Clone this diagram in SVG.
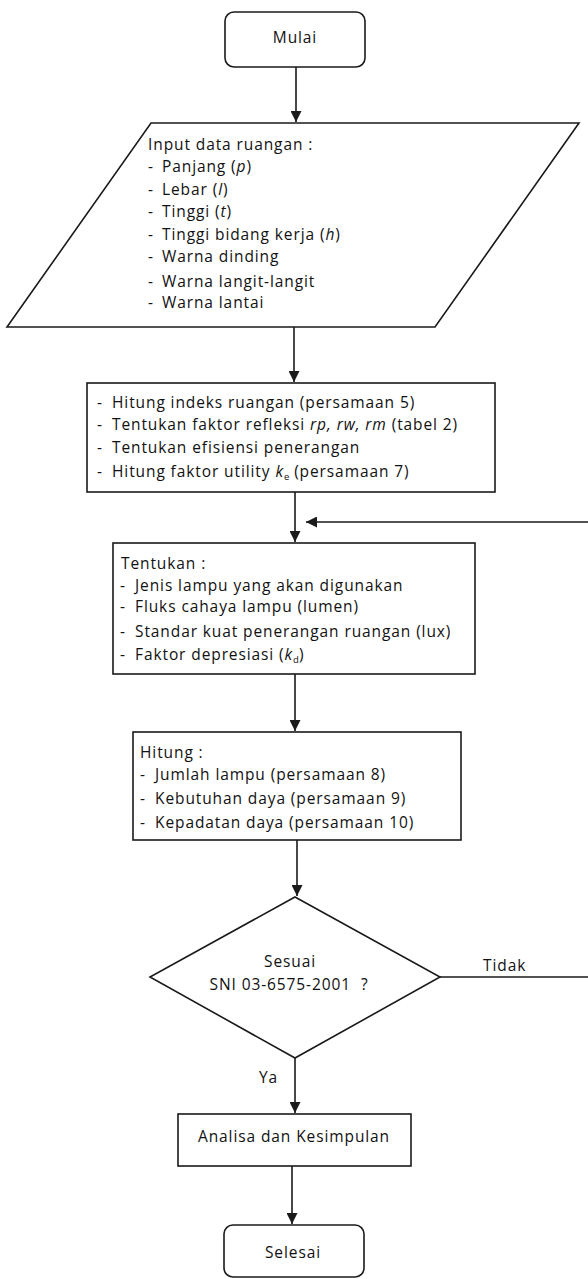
<svg xmlns="http://www.w3.org/2000/svg" width="588" height="1279" viewBox="0 0 588 1279">
<style>
  .shape { fill: #ffffff; stroke: #1a1a1a; stroke-width: 1.6; }
  .conn { fill: none; stroke: #1a1a1a; stroke-width: 1.6; }
  text { font-family: "Open Sans", "Liberation Sans", sans-serif; font-size: 15.5px; fill: #111111; letter-spacing: 0.9px; }
  .c { text-anchor: middle; }
  .i { font-style: italic; }
  .sub { font-size: 9.5px; letter-spacing: 0; }
</style>
<defs>
  <marker id="arr" viewBox="0 0 10 10" refX="10" refY="5" markerWidth="11" markerHeight="11" markerUnits="userSpaceOnUse" orient="auto">
    <path d="M0,0 L10,5 L0,10 z" fill="#1a1a1a"/>
  </marker>
</defs>
<rect width="588" height="1279" fill="#ffffff"/>

<g id="connectors">
  <line class="conn" x1="296" y1="67" x2="296" y2="122" marker-end="url(#arr)"/>
  <line class="conn" x1="294" y1="327" x2="294" y2="382" marker-end="url(#arr)"/>
  <line class="conn" x1="295" y1="492" x2="295" y2="542" marker-end="url(#arr)"/>
  <path class="conn" d="M440,977 H592 V522 H306" marker-end="url(#arr)"/>
  <line class="conn" x1="295" y1="674" x2="295" y2="731" marker-end="url(#arr)"/>
  <line class="conn" x1="297" y1="840" x2="297" y2="896" marker-end="url(#arr)"/>
  <line class="conn" x1="295" y1="1058" x2="295" y2="1113" marker-end="url(#arr)"/>
  <line class="conn" x1="292" y1="1166" x2="292" y2="1224" marker-end="url(#arr)"/>
  <text x="483" y="971">Tidak</text>
  <text x="259" y="1083">Ya</text>
</g>

<g id="mulai">
  <rect class="shape" x="225" y="12" width="140" height="55" rx="9"/>
  <text class="c" x="295" y="43">Mulai</text>
</g>

<g id="input">
  <polygon class="shape" points="151,123 579,123 435,327 7,327"/>
  <text x="148" y="150">Input data ruangan :</text>
  <text x="148" y="172">-<tspan x="162">Panjang (<tspan class="i">p</tspan>)</tspan></text>
  <text x="148" y="195">-<tspan x="162">Lebar  (<tspan class="i">l</tspan>)</tspan></text>
  <text x="148" y="217">-<tspan x="162">Tinggi  (<tspan class="i">t</tspan>)</tspan></text>
  <text x="148" y="240">-<tspan x="162">Tinggi bidang kerja (<tspan class="i">h</tspan>)</tspan></text>
  <text x="148" y="262">-<tspan x="162">Warna dinding</tspan></text>
  <text x="148" y="287">-<tspan x="162">Warna langit-langit</tspan></text>
  <text x="148" y="308">-<tspan x="162">Warna lantai</tspan></text>
</g>

<g id="hitung-indeks">
  <rect class="shape" x="87" y="383" width="408" height="109"/>
  <text x="97" y="408">-<tspan x="112">Hitung indeks ruangan (persamaan 5)</tspan></text>
  <text x="97" y="430">-<tspan x="112">Tentukan faktor refleksi  <tspan class="i">rp, rw, rm</tspan> (tabel 2)</tspan></text>
  <text x="97" y="453">-<tspan x="112">Tentukan efisiensi  penerangan</tspan></text>
  <text x="97" y="477">-<tspan x="112">Hitung faktor utility <tspan class="i">k</tspan><tspan class="sub" dy="3">e</tspan><tspan dy="-3"> (persamaan 7)</tspan></tspan></text>
</g>

<g id="tentukan">
  <rect class="shape" x="113" y="543" width="362" height="131"/>
  <text x="121" y="569">Tentukan :</text>
  <text x="120" y="591">-<tspan x="135">Jenis lampu yang akan digunakan</tspan></text>
  <text x="120" y="612">-<tspan x="135">Fluks cahaya lampu (lumen)</tspan></text>
  <text x="120" y="637">-<tspan x="135">Standar kuat penerangan ruangan  (lux)</tspan></text>
  <text x="120" y="660">-<tspan x="135">Faktor depresiasi  (<tspan class="i">k</tspan><tspan class="sub" dy="3">d</tspan><tspan dy="-3">)</tspan></tspan></text>
</g>

<g id="hitung">
  <rect class="shape" x="133" y="732" width="328" height="108"/>
  <text x="140" y="758">Hitung :</text>
  <text x="140" y="780">-<tspan x="155">Jumlah lampu (persamaan 8)</tspan></text>
  <text x="140" y="804">-<tspan x="155">Kebutuhan daya (persamaan 9)</tspan></text>
  <text x="140" y="828">-<tspan x="155">Kepadatan daya (persamaan 10)</tspan></text>
</g>

<g id="sesuai">
  <polygon class="shape" points="295,897 440,977 295,1058 150,977"/>
  <text class="c" x="290" y="967">Sesuai</text>
  <text class="c" x="289" y="990" xml:space="preserve">SNI 03-6575-2001  ?</text>
</g>

<g id="analisa">
  <rect class="shape" x="178" y="1114" width="233" height="52"/>
  <text class="c" x="294" y="1142">Analisa dan Kesimpulan</text>
</g>

<g id="selesai">
  <rect class="shape" x="224" y="1225" width="140" height="52" rx="9"/>
  <text class="c" x="293" y="1258">Selesai</text>
</g>
</svg>
